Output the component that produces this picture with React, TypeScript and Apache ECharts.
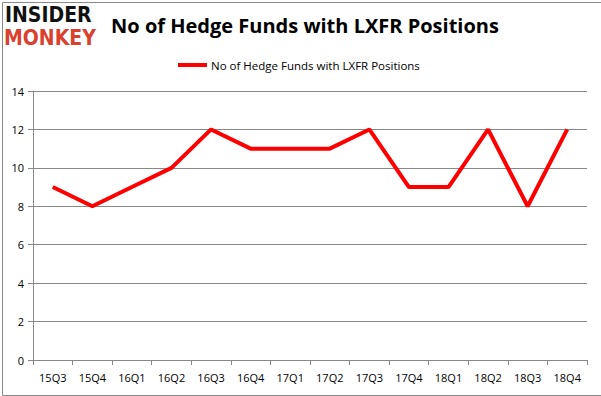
import React, { useEffect, useRef } from "react";
import * as echarts from "echarts";

const categories = ["15Q3", "15Q4", "16Q1", "16Q2", "16Q3", "16Q4", "17Q1", "17Q2", "17Q3", "17Q4", "18Q1", "18Q2", "18Q3", "18Q4"];
const hedgeFunds = [9, 8, 9, 10, 12, 11, 11, 11, 12, 9, 9, 12, 8, 12];
const seriesName = "No of Hedge Funds with LXFR Positions";
const titleText = "No of Hedge Funds with LXFR Positions";

export default function App() {
  const ref = useRef<HTMLDivElement>(null);
  useEffect(() => {
    document.body.style.margin = "0";
    const chart = echarts.init(ref.current!, null, { renderer: "svg" });
    chart.setOption({
      animation: false,
      backgroundColor: "#ffffff",
      title: {
        text: titleText,
        left: 300,
        textAlign: "center",
        top: 10,
        textStyle: { fontFamily: "Open Sans", fontWeight: "bold", fontSize: 20, color: "#000" },
      },
      legend: {
        data: [seriesName],
        top: 54,
        left: 173,
        itemWidth: 29,
        itemHeight: 4,
        itemGap: 4,
        icon: "rect",
        textStyle: { fontFamily: "Open Sans", fontSize: 11.5, color: "#000", padding: [0, 0, 0, -1] },
      },
      grid: { left: 33, right: 14, top: 91, bottom: 36, containLabel: false },
      xAxis: {
        type: "category",
        data: categories,
        boundaryGap: true,
        axisLine: { lineStyle: { color: "#888", width: 1 } },
        axisTick: { show: true, alignWithLabel: false, length: 5, lineStyle: { color: "#888" } },
        axisLabel: { fontFamily: "Open Sans", fontSize: 11, color: "#000", margin: 12 },
      },
      yAxis: {
        type: "value",
        min: 0,
        max: 14,
        interval: 2,
        axisLine: { show: true, lineStyle: { color: "#888", width: 1 } },
        axisTick: { show: true, length: 5, lineStyle: { color: "#888" } },
        splitLine: { lineStyle: { color: "#888", width: 1 } },
        axisLabel: { fontFamily: "Open Sans", fontSize: 11, color: "#000", margin: 9 },
      },
      series: [
        {
          name: seriesName,
          type: "line",
          data: hedgeFunds,
          symbol: "none",
          lineStyle: { color: "#ff0000", width: 4 },
          itemStyle: { color: "#ff0000" },
        },
      ],
      graphic: [
        {
          type: "rect",
          left: 0,
          top: 0,
          shape: { x: 0.5, y: 0.5, width: 599, height: 393 },
          style: { fill: "none", stroke: "#888", lineWidth: 1 },
          silent: true,
        },
        {
          type: "text",
          x: 5,
          y: 4,
          style: { text: "INSIDER", fontFamily: "DejaVu Sans Condensed", fontWeight: "bold", fontSize: 21, lineHeight: 21, fill: "#111", textVerticalAlign: "top" },
        },
        {
          type: "text",
          x: 4,
          y: 27,
          style: { text: "MONKEY", fontFamily: "DejaVu Sans Condensed", fontWeight: "bold", fontSize: 21, lineHeight: 21, fill: "#d9412e", textVerticalAlign: "top" },
        },
      ],
    });
    return () => chart.dispose();
  }, []);
  return <div ref={ref} style={{ width: 601, height: 396 }} />;
}
